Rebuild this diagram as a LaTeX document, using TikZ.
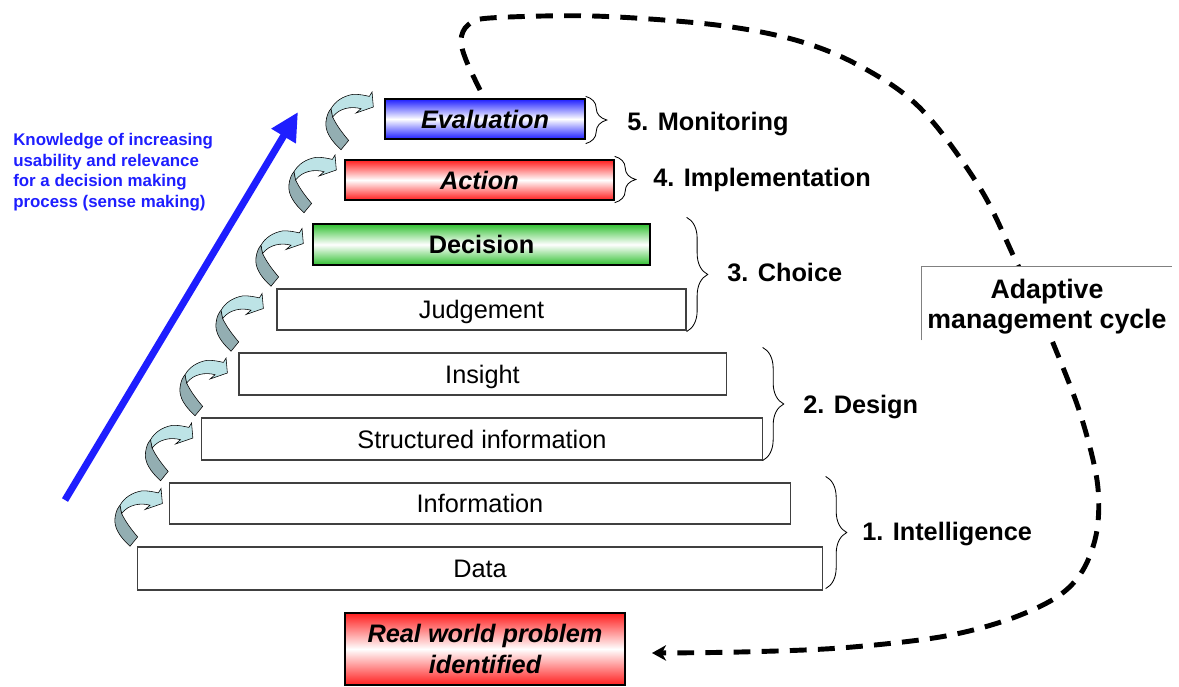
\documentclass[tikz,border=0pt]{standalone}
\usepackage{fontspec}
\setmainfont{Liberation Sans}
\usetikzlibrary{arrows.meta,decorations.pathreplacing,calc}
\definecolor{arrlight}{HTML}{BDE3E6}
\definecolor{arrdark}{HTML}{93AEB2}
\definecolor{myblue}{HTML}{1E1EFF}
\definecolor{myred}{HTML}{FF1E1E}
\definecolor{mygreen}{HTML}{30C030}
\definecolor{boxline}{HTML}{404040}
\tikzset{
  onelinetext/.style={text height=12.9pt, text depth=0pt},
  stepbox/.style={draw=boxline, line width=0.8pt, fill=white, inner sep=0pt, onelinetext,
    font=\fontsize{18}{21}\selectfont},
  colbox/.style={draw=black, line width=0.9pt, inner sep=0pt, onelinetext,
    font=\fontsize{18}{21}\selectfont\bfseries},
  rwbox/.style={draw=black, line width=0.9pt, inner sep=0pt, align=center,
    font=\fontsize{18}{22}\selectfont\bfseries\itshape},
  lbl/.style={anchor=west, inner sep=0pt, onelinetext, font=\fontsize{18}{21}\selectfont\bfseries},
  brc/.style={decorate, decoration={brace, amplitude=15pt}, line width=0.6pt},
  cycleline/.style={line width=3.5pt, dash pattern=on 12pt off 8pt,
    -{Stealth[length=10pt,width=11pt,inset=3pt]}},
  curvarrow/.pic={
    \filldraw[fill=arrdark, draw=black, line width=0.4pt]
      (-42.3,1.7) -- (-40.7,10) .. controls (-37,18) and (-31,26) .. (-24.7,33.4)
      -- (-32.3,42.7) .. controls (-42,34) and (-49,24) .. (-47.3,14)
      .. controls (-46.5,8) and (-44.5,4) .. (-42.3,1.7) -- cycle;
    \filldraw[fill=arrlight, draw=black, line width=0.4pt]
      (-42.3,1.7) .. controls (-38,-6) and (-30,-11) .. (-20.7,-12.6)
      .. controls (-14,-13) and (-8,-11.5) .. (-4,-10.6) -- (-1.3,-15) -- (0,0)
      -- (-17.3,6) -- (-12.3,1.7) .. controls (-22,-1) and (-34,1) .. (-40.7,10) -- cycle;
  }
}
\begin{document}
\begin{tikzpicture}[x=0.025cm, y=-0.025cm]
\useasboundingbox (0,0) rectangle (1179,686);

% dashed adaptive management cycle
\coordinate (cstart) at (480,90);
\coordinate (cend) at (652,653);
\draw[cycleline] plot[smooth, tension=0.55] coordinates {(cstart) (466,60) (461,40) (468,25) (490,18) (593,16) (708,24) (784,37) (842,57) (899,90) (937,127) (983,193) (1014,257) (1034,300) (1053,343) (1080,413) (1097,480) (1097,530) (1083,570) (1057,597) (1007,620) (940,637) (840,648) (740,652) (cend)};

\node[fill=white, inner sep=0pt, minimum width=6.25cm, minimum height=1.825cm] (adbox) at (1047,303.5) {};
\draw[gray, line width=0.5pt] (adbox.south west) -- (adbox.north west) -- (adbox.north east);
\node[inner sep=0pt, align=center, font=\fontsize{19}{21.3}\selectfont\bfseries] (adaptive) at (1047,306.5)
  {Adaptive\\management cycle};

% step boxes
\node[stepbox, minimum width=17.1cm, minimum height=1.075cm] (data) at (480,568.5) {Data};
\node[stepbox, minimum width=15.5cm, minimum height=1.025cm] (info) at (480,503.5) {Information};
\node[stepbox, minimum width=14cm, minimum height=1.05cm] (struct) at (482,439) {Structured information};
\node[stepbox, minimum width=12.175cm, minimum height=1.05cm] (insight) at (482.5,374) {Insight};
\node[stepbox, minimum width=10.225cm, minimum height=1.025cm] (judg) at (481.5,309.5) {Judgement};
\node[colbox, top color=mygreen, bottom color=mygreen, middle color=white,
  minimum width=8.425cm, minimum height=1.025cm] (decision) at (481.5,244.5) {Decision};
\node[colbox, top color=myred, bottom color=myred, middle color=white,
  minimum width=6.725cm, minimum height=1cm] (action) at (479.5,180) {\itshape Action};
\node[colbox, top color=myblue, bottom color=myblue, middle color=white,
  minimum width=5cm, minimum height=1cm] (eval) at (485,119) {\itshape Evaluation};
\node[rwbox, top color=myred, bottom color=myred, middle color=white,
  minimum width=7cm, minimum height=1.8cm] (rw) at (485,649)
  {Real world problem\\identified};

% curved arrows
\pic at ($(info.west)+(-7,0)$) {curvarrow};
\pic at ($(struct.west)+(-8.5,-1)$) {curvarrow};
\pic at ($(insight.west)+(-11,-1)$) {curvarrow};
\pic at ($(judg.west)+(-13,-1)$) {curvarrow};
\pic at ($(decision.west)+(-9,-1)$) {curvarrow};
\pic at ($(action.west)+(-8,-10)$) {curvarrow};
\pic at ($(eval.west)+(-11,-12)$) {curvarrow};

% braces and labels
\draw[brc] ($(eval.north east)+(0,-2)$) -- ($(eval.south east)+(0,4)$);
\node[lbl] (l5) at (627,121) {5. Monitoring};
\draw[brc] ($(action.north east)+(0,-3)$) -- ($(action.south east)+(0,2)$);
\node[lbl] (l4) at (653,177) {4. Implementation};
\draw[brc] ($(judg.east |- decision.north)+(0,-6)$) -- ($(judg.south east)+(0,1)$);
\node[lbl] (l3) at (727,272) {3. Choice};
\draw[brc] ($(struct.east |- insight.north)+(0,-5)$) -- (struct.south east);
\node[lbl] (l2) at (803,404) {2. Design};
\draw[brc] ($(data.east |- info.north)+(3,-6)$) -- ($(data.south east)+(3,-2)$);
\node[lbl] (l1) at (862,531) {1. Intelligence};

% blue knowledge arrow
\coordinate (bstart) at (65,500);
\coordinate (btip) at (298,112);
\draw[myblue, line width=5pt, -{Triangle[length=20pt,width=19pt]}] (bstart) -- (btip);
\node[anchor=north west, inner sep=0pt, align=left, text=myblue,
  font=\fontsize{12}{14.7}\selectfont\bfseries] (know) at (13,133)
  {Knowledge of increasing\\usability and relevance\\for a decision making\\process (sense making)};
\end{tikzpicture}
\end{document}
